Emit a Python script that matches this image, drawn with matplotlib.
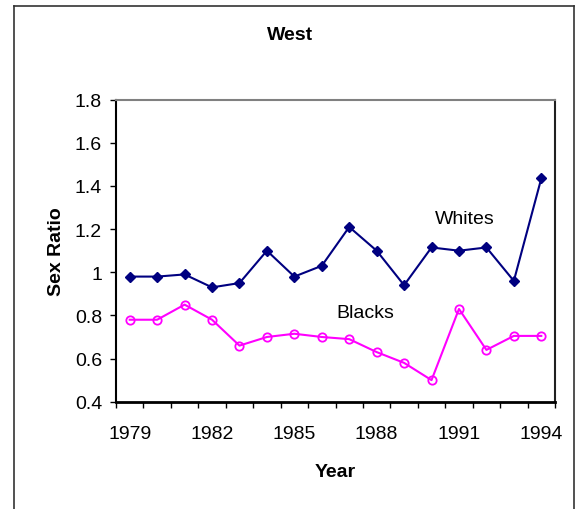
import numpy as np
import matplotlib.pyplot as plt
from matplotlib.lines import Line2D

plt.rcParams['font.family'] = ['Liberation Sans', 'DejaVu Sans']

years = list(range(1979, 1995))
whites = [0.98, 0.98, 0.99, 0.93, 0.95, 1.10, 0.98, 1.03, 1.21, 1.10,
          0.94, 1.115, 1.10, 1.115, 0.96, 1.435]
blacks = [0.78, 0.78, 0.85, 0.78, 0.66, 0.70, 0.715, 0.70, 0.69, 0.63,
          0.58, 0.50, 0.83, 0.64, 0.705, 0.705]
year_labels = ['1979', '1982', '1985', '1988', '1991', '1994']

fig = plt.figure(figsize=(5.81, 5.10), dpi=100)
ax = fig.add_axes([116 / 581, 1 - 402.7 / 510, 439 / 581, 302 / 510])

# category axis: points sit in the middle of each slot
x = np.arange(len(years))
ax.plot(x, whites, color='#000080', lw=1.5, marker='D', ms=5.5,
        markerfacecolor='#000080', markeredgecolor='#000080')
ax.plot(x, blacks, color='#ff00ff', lw=1.5, marker='o', ms=6,
        markerfacecolor='none', markeredgecolor='#ff00ff', markeredgewidth=1.3)

ax.set_xlim(-0.5, len(years) - 0.5)
ax.set_ylim(0.4, 1.8)
ax.set_yticks(np.arange(0.4, 1.81, 0.2))
ax.set_yticklabels(['0.4', '0.6', '0.8', '1', '1.2', '1.4', '1.6', '1.8'])

# tick marks between categories, labels every third year
ax.set_xticks(np.arange(-0.5, len(years), 1.0))
ax.set_xticklabels([])
ax.set_xticks([years.index(int(y)) for y in year_labels], minor=True)
ax.set_xticklabels(year_labels, minor=True)
ax.tick_params(axis='x', which='major', direction='out', length=4, width=1, color='black')
ax.tick_params(axis='x', which='minor', length=0, pad=17, labelsize=14)
ax.tick_params(axis='y', direction='out', length=4, width=1, pad=6, labelsize=14)

ax.spines['left'].set_linewidth(1.5)
ax.spines['bottom'].set_linewidth(2)
ax.spines['top'].set_color('#808080')
ax.spines['top'].set_linewidth(1.5)
ax.spines['right'].set_color('#202020')
ax.spines['right'].set_linewidth(1.5)

ax.text(years.index(1991) + 0.23, 1.25, 'Whites', fontsize=14, ha='center', va='center')
ax.text(8.6, 0.815, 'Blacks', fontsize=14, ha='center', va='center')

ax.set_xlabel('Year', fontsize=14, fontweight='bold', labelpad=15)
ax.set_ylabel('Sex Ratio', fontsize=14, fontweight='bold', labelpad=7)
fig.text(290 / 581, 1 - 35 / 510, 'West', fontsize=14, fontweight='bold',
         ha='center', va='center')

# chart frame around everything
for xs, ys in [([14 / 581, 14 / 581], [0, 1 - 7 / 510]),
               ([14 / 581, 574 / 581], [1 - 7 / 510, 1 - 7 / 510]),
               ([574 / 581, 574 / 581], [0, 1 - 7 / 510])]:
    fig.add_artist(Line2D(xs, ys, color='#333333', lw=1.2, transform=fig.transFigure))

fig.savefig('out.png', dpi=100)
